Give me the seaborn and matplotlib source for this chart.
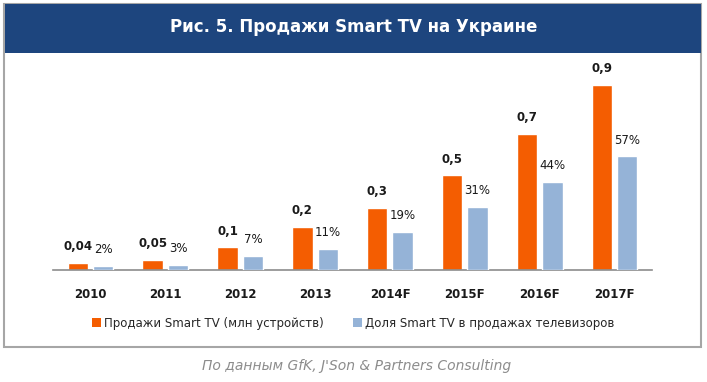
import matplotlib
matplotlib.use('Agg')
import matplotlib.pyplot as plt
from matplotlib.patches import Patch, Rectangle
import numpy as np
import pandas as pd
import seaborn as sns

# data
years = ['2010', '2011', '2012', '2013', '2014F', '2015F', '2016F', '2017F']
sales = [0.035, 0.049, 0.11, 0.21, 0.30, 0.46, 0.66, 0.90]   # mln units (bar heights)
sales_labels = ['0,04', '0,05', '0,1', '0,2', '0,3', '0,5', '0,7', '0,9']
share = [2, 2.7, 7, 10.7, 19, 31.6, 44, 57]                     # % of TV sales
share_labels = ['2%', '3%', '7%', '11%', '19%', '31%', '44%', '57%']

sales_name = 'Продажи Smart TV (млн устройств)'
share_name = 'Доля Smart TV в продажах телевизоров'
title = 'Рис. 5. Продажи Smart TV на Украине'
source = "По данным GfK, J'Son & Partners Consulting"

orange = '#f45d01'
blue = '#95b3d7'
navy = '#1d457e'

sns.set_theme(style='white')
plt.rcParams['font.family'] = ['DejaVu Sans']

# long tables: each axis gets both hue levels so the dodge positions match
df_sales = pd.DataFrame({'year': years * 2,
                         'series': [sales_name] * 8 + [share_name] * 8,
                         'value': sales + [np.nan] * 8})
df_share = pd.DataFrame({'year': years * 2,
                         'series': [sales_name] * 8 + [share_name] * 8,
                         'value': [np.nan] * 8 + share})
palette = {sales_name: orange, share_name: blue}

fig = plt.figure(figsize=(7.07, 3.82), dpi=100)

# outer frame and title banner (behind the axes)
fig.patches.append(Rectangle((0.0057, 0.0916), 0.9858, 0.898, transform=fig.transFigure,
                             facecolor='white', edgecolor='#a6a6a6', linewidth=1.5, zorder=-3))
fig.patches.append(Rectangle((0.007, 0.8613), 0.9845, 0.1282, transform=fig.transFigure,
                             facecolor=navy, edgecolor='none', zorder=-2))
fig.text(0.5, 1 - 27 / 382, title, ha='center', va='center', color='white',
         fontsize=12, fontweight='bold')

ax = fig.add_axes([53 / 707, 1 - 270 / 382, 599 / 707, 206 / 382])
ax2 = ax.twinx()

sns.barplot(data=df_sales, x='year', y='value', hue='series', hue_order=[sales_name, share_name],
            palette=palette, dodge=True, width=0.68, gap=0.2, legend=False, ax=ax,
            errorbar=None, saturation=1)
sns.barplot(data=df_share, x='year', y='value', hue='series', hue_order=[sales_name, share_name],
            palette=palette, dodge=True, width=0.68, gap=0.2, legend=False, ax=ax2,
            errorbar=None, saturation=1)

ax.set_ylim(0, 1.0)
ax2.set_ylim(0, 100 * 206 / 199.5)
ax.set_xlim(-0.5, len(years) - 0.5)

ax.bar_label(ax.containers[0], labels=sales_labels, padding=7, fontsize=8.5,
             fontweight='bold', color='#1a1a1a')
ax2.bar_label(ax2.containers[-1], labels=share_labels, padding=7, fontsize=8.5,
              color='#1a1a1a')

for a in (ax, ax2):
    a.set_xlabel('')
    a.set_ylabel('')
    a.set_yticks([])
    for s in a.spines.values():
        s.set_visible(False)
    a.patch.set_alpha(0)
ax.spines['bottom'].set_visible(True)
ax.spines['bottom'].set_color('#8c8c8c')
ax.spines['bottom'].set_linewidth(1.2)
ax.tick_params(axis='x', length=0, pad=13, labelsize=8.5, labelcolor='#1a1a1a')
for t in ax.get_xticklabels():
    t.set_fontweight('bold')

handles = [Patch(facecolor=orange, edgecolor='none'), Patch(facecolor=blue, edgecolor='none')]
fig.legend(handles, [sales_name, share_name], loc='center', bbox_to_anchor=(0.5, 1 - 323 / 382),
           ncol=2, frameon=False, fontsize=8.5, handlelength=0.7, handleheight=0.7,
           handletextpad=0.3, columnspacing=2.5)

fig.text(0.505, 1 - 366 / 382, source, ha='center', va='center', color='#8c8c8c',
         fontsize=10, fontstyle='italic')

fig.savefig('out.png', dpi=100)
